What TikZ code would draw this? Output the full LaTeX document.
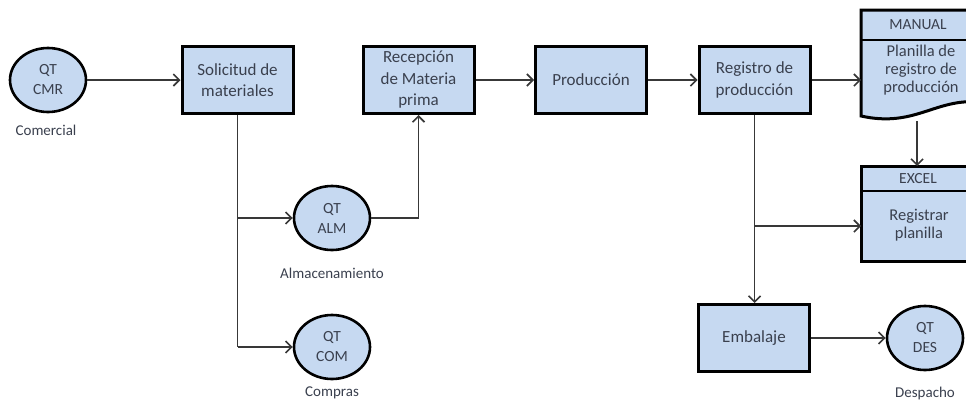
\documentclass[tikz,border=0pt]{standalone}
\usepackage{fontspec}
\setmainfont{Carlito}
\usetikzlibrary{arrows.meta,shapes.geometric}

\definecolor{boxfill}{RGB}{198,217,241}
\definecolor{txt}{RGB}{58,64,78}
\definecolor{wire}{RGB}{56,56,56}

\tikzset{
  procbox/.style={draw=black, line width=3pt, fill=boxfill, minimum width=111pt,
    minimum height=67pt, inner sep=0pt, align=center, text=txt,
    font=\fontsize{17}{21.5}\selectfont},
  actor/.style={ellipse, draw=black, line width=2.6pt, fill=boxfill, minimum width=76pt,
    minimum height=64pt, inner sep=0pt, align=center, text=txt,
    font=\fontsize{15.5}{20}\selectfont},
  caption/.style={text=txt, inner sep=0pt, font=\fontsize{15}{17}\selectfont},
  headtext/.style={text=txt, inner sep=0pt, font=\fontsize{15.5}{17}\selectfont},
  bodytext/.style={text=txt, inner sep=0pt, align=center, font=\fontsize{16.5}{18}\selectfont},
  flow/.style={draw=wire, line width=1.8pt, -{Straight Barb[length=6pt,width=12pt,line width=1.6pt]}},
  plain/.style={draw=wire, line width=1.8pt}
}

\begin{document}
\begin{tikzpicture}[x=1pt,y=-1pt]
\useasboundingbox (0,0) rectangle (966,410);

% actors
\node[actor] (cmr) at (48,80) {QT\\CMR};
\node[caption] (cmrl) at (46,130) {Comercial};
\node[actor] (alm) at (332,218) {QT\\ALM};
\node[caption] (alml) at (332,273) {Almacenamiento};
\node[actor] (com) at (332,347) {QT\\COM};
\node[caption] (coml) at (332,393) {Compras};
\node[actor] (des) at (925,338) {QT\\DES};
\node[caption] (desl) at (925,393) {Despacho};

% process boxes
\node[procbox] (sol) at (237.5,80) {Solicitud de\\materiales};
\node[procbox] (rec) at (418.5,80) {Recepción\\de Materia\\prima};
\node[procbox] (prod) at (591,80) {Producción};
\node[procbox] (reg) at (754.5,80) {Registro de\\producción};
\node[procbox] (emb) at (754,338) {Embalaje};

% manual document with wavy bottom
\path[draw=black, line width=3pt, fill=boxfill, line join=miter]
  (861,10) -- (980,10) -- (980,102)
  .. controls (935,98) and (915,128) .. (861,116) -- cycle;
\draw[black, line width=2.4pt] (861,40) -- (980,40);
\coordinate (manL) at (861,80);
\coordinate (manB) at (917,121);
\node[headtext] (manh) at (918,25) {MANUAL};
\node[bodytext] (manb) at (921,70) {Planilla de\\registro de\\producción};

% excel sheet
\path[draw=black, line width=3pt, fill=boxfill] (861,166) rectangle (980,261);
\draw[black, line width=2.4pt] (861,191) -- (980,191);
\coordinate (excT) at (917,166);
\coordinate (excL) at (861,226);
\node[headtext] (exch) at (918,179) {EXCEL};
\node[bodytext] (excb) at (919,225) {Registrar\\planilla};

% connectors
\draw[flow] (cmr.east) -- (sol.west);
\coordinate (j1) at (sol.south |- alm.west);
\coordinate (j2) at (sol.south |- com.west);
\draw[plain] (sol.south) -- (j2);
\draw[flow] (j1) -- (alm.west);
\draw[flow] (j2) -- (com.west);
\draw[flow] (alm.east) -| (rec.south);
\draw[flow] (rec.east) -- (prod.west);
\draw[flow] (prod.east) -- (reg.west);
\draw[flow] (reg.east) -- (manL);
\draw[flow] (manB) -- (excT);
\coordinate (j3) at (reg.south |- excL);
\draw[flow] (reg.south) -- (reg.south |- emb.north);
\draw[flow] (j3) -- (excL);
\draw[flow] (emb.east) -- (des.west);
\end{tikzpicture}
\end{document}
